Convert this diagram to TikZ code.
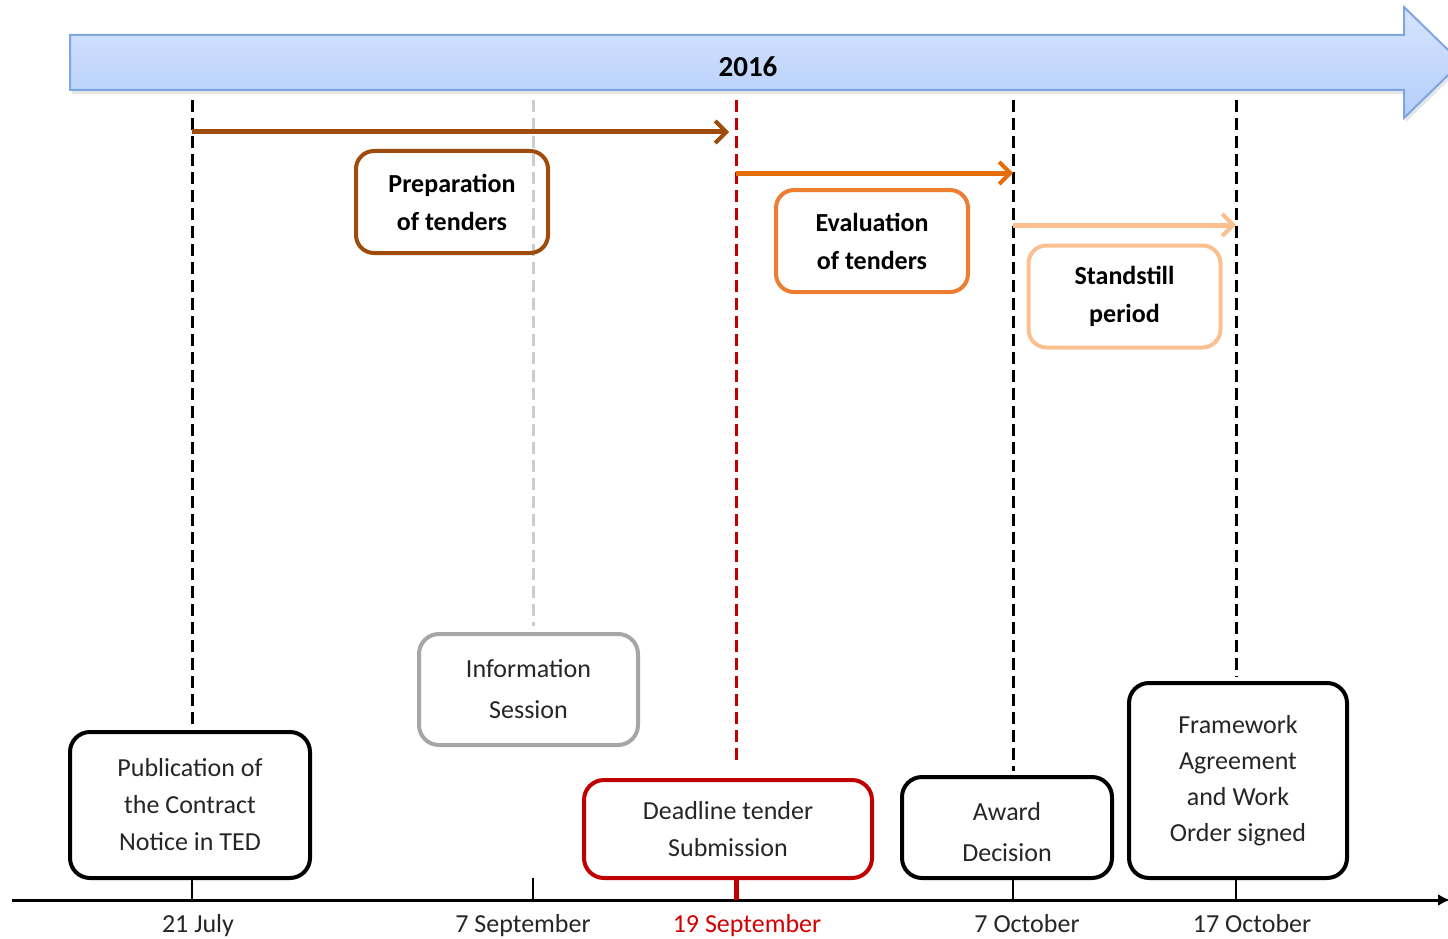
\documentclass[tikz,border=0pt]{standalone}
\usepackage{fontspec}
\setmainfont{Carlito}
\usetikzlibrary{arrows.meta,shadows}
\definecolor{bannertop}{RGB}{214,228,255}
\definecolor{bannerbot}{RGB}{181,206,250}
\definecolor{bannerline}{RGB}{126,166,224}
\definecolor{prepcol}{RGB}{158,75,11}
\definecolor{evalarrow}{RGB}{228,108,10}
\definecolor{evalbox}{RGB}{237,125,49}
\definecolor{standcol}{RGB}{250,192,144}
\definecolor{infocol}{RGB}{166,166,166}
\definecolor{infoline}{RGB}{205,205,205}
\definecolor{deadred}{RGB}{192,0,0}
\definecolor{datered}{RGB}{210,0,0}
\definecolor{textgray}{RGB}{38,38,38}
\tikzset{
  phasebox/.style={draw, line width=4pt, rounded corners=18pt, fill=white,
    align=center, inner sep=0pt, font=\fontsize{26}{38}\selectfont\bfseries,
    minimum width=192pt, minimum height=102pt},
  eventbox/.style={draw, line width=4pt, rounded corners=20pt, fill=white,
    align=center, inner sep=0pt, text=textgray, font=\fontsize{26}{37}\selectfont},
  guide/.style={line width=3pt, dash pattern=on 12pt off 6pt},
  phasearrow/.style={line width=5pt, -{Straight Barb[length=11pt,width=22pt,line width=4pt]}},
  tick/.style={line width=1.5pt, black},
  datelabel/.style={anchor=base, text=textgray, font=\fontsize{26}{30}\selectfont}
}
\begin{document}
\begin{tikzpicture}[x=1pt,y=-1pt]
\path[use as bounding box, clip] (0,0) rectangle (1448,939);

% year banner
\path[draw=bannerline, line width=2pt, top color=bannertop, bottom color=bannerbot,
  drop shadow={shadow xshift=2pt, shadow yshift=-4pt, opacity=0.2, fill=gray}]
  (70,35) -- (1404,35) -- (1404,7) -- (1461,62.5) -- (1404,118) -- (1404,90) -- (70,90) -- cycle;
\node[font=\fontsize{29}{34}\selectfont\bfseries] (year) at (748,67) {2016};

% date axis
\coordinate (axL) at (12,900);
\coordinate (axR) at (1450,900);
\draw[line width=3pt, -{Latex[length=12pt,width=12pt]}] (axL) -- (axR);

\coordinate (d1) at (192,900);
\coordinate (d2) at (533,900);
\coordinate (d3) at (736,900);
\coordinate (d4) at (1013,900);
\coordinate (d5) at (1236,900);
\coordinate (g1) at (192,100);
\coordinate (g2) at (533,100);
\coordinate (g3) at (736,100);
\coordinate (g4) at (1013,100);
\coordinate (g5) at (1236,100);

% event boxes
\node[eventbox, minimum width=240pt, minimum height=146pt] (pub) at (190,805)
  {Publication of\\the Contract\\Notice in TED};
\node[eventbox, draw=infocol, minimum width=219pt, minimum height=111pt,
  font=\fontsize{26}{41}\selectfont] (info) at (528.5,689.5) {Information\\Session};
\node[eventbox, draw=deadred, minimum width=288pt, minimum height=98pt] (dead) at (728,829)
  {Deadline tender\\Submission};
\node[eventbox, minimum width=210pt, minimum height=101pt, text height=68pt,
  font=\fontsize{26}{41}\selectfont] (award) at (1007,827.5) {Award\\Decision};
\node[eventbox, minimum width=218pt, minimum height=195pt,
  font=\fontsize{26}{36}\selectfont] (frame) at (1238,780.5)
  {Framework\\Agreement\\and Work\\Order signed};

% guide lines from the banner down to the events
\draw[guide] (g1) -- (g1 |- pub.north);
\draw[guide, infoline] (g2) -- ([yshift=6pt]g2 |- info.north);
\draw[guide, deadred, line width=3pt] (g3) -- ([yshift=16pt]g3 |- dead.north);
\draw[guide] (g4) -- ([yshift=4pt]g4 |- award.north);
\draw[guide] (g5) -- ([yshift=4pt]g5 |- frame.north);

% ticks on the axis
\draw[tick] (d1 |- pub.south) -- (d1);
\draw[tick] ([yshift=22pt]d2) -- (d2);
\draw[line width=5pt, deadred] (d3 |- dead.south) -- (d3);
\draw[tick] (d4 |- award.south) -- (d4);
\draw[tick] (d5 |- frame.south) -- (d5);

% date labels
\node[datelabel] (l1) at (198,932) {21 July};
\node[datelabel] (l2) at (523,932) {7 September};
\node[datelabel, text=datered] (l3) at (747,932) {19 September};
\node[datelabel] (l4) at (1027,932) {7 October};
\node[datelabel] (l5) at (1252,932) {17 October};

% phases
\coordinate (p1s) at (192,132);
\coordinate (p1e) at (729,132);
\coordinate (p2s) at (736,173);
\coordinate (p2e) at (1013,173);
\coordinate (p3s) at (1013,225);
\coordinate (p3e) at (1236,225);
\draw[phasearrow, prepcol] (p1s) -- (p1e);
\draw[phasearrow, evalarrow] (p2s) -- (p2e);
\draw[phasearrow, standcol] (p3s) -- (p3e);

\node[phasebox, draw=prepcol, fill=none] (prep) at (452,202) {Preparation\\of tenders};
\node[phasebox, draw=evalbox] (eval) at (872,241) {Evaluation\\of tenders};
\node[phasebox, draw=standcol] (stand) at (1124.5,296.5) {Standstill\\period};
\end{tikzpicture}
\end{document}
